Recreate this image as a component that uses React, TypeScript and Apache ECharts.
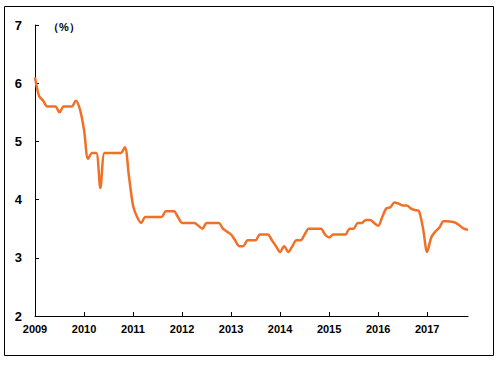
import React, { useEffect, useRef } from "react";
import * as echarts from "echarts";

const yearLabels = ["2009", "2010", "2011", "2012", "2013", "2014", "2015", "2016", "2017"];
// monthly values, Jan 2009 – Nov 2017
const rateValues = [
  6.1, 5.78, 5.7, 5.6, 5.6, 5.6, 5.5, 5.6, 5.6, 5.6, 5.7, 5.55,
  5.2, 4.7, 4.8, 4.8, 4.2, 4.8, 4.8, 4.8, 4.8, 4.8, 4.9, 4.4,
  3.9, 3.7, 3.6, 3.7, 3.7, 3.7, 3.7, 3.7, 3.8, 3.8, 3.8, 3.7,
  3.6, 3.6, 3.6, 3.6, 3.55, 3.5, 3.6, 3.6, 3.6, 3.6, 3.5, 3.45,
  3.4, 3.3, 3.2, 3.2, 3.3, 3.3, 3.3, 3.4, 3.4, 3.4, 3.3, 3.2,
  3.1, 3.2, 3.1, 3.2, 3.3, 3.3, 3.4, 3.5, 3.5, 3.5, 3.5, 3.4,
  3.35, 3.4, 3.4, 3.4, 3.4, 3.5, 3.5, 3.6, 3.6, 3.65, 3.65, 3.6,
  3.55, 3.7, 3.85, 3.87, 3.95, 3.93, 3.9, 3.9, 3.85, 3.82, 3.8, 3.5,
  3.1, 3.35, 3.45, 3.52, 3.63, 3.63, 3.62, 3.6, 3.55, 3.5, 3.48,
];
const unitLabel = "（%）";

export default function App() {
  const ref = useRef<HTMLDivElement>(null);
  useEffect(() => {
    if (!ref.current) return;
    const chart = echarts.init(ref.current, null, { renderer: "svg" });
    const categories = rateValues.map((_, i) => String(i));
    chart.setOption({
      animation: false,
      backgroundColor: "#fff",
      grid: { left: 35, right: 33, top: 25, bottom: 50, containLabel: false },
      xAxis: {
        type: "category",
        data: categories,
        boundaryGap: false,
        axisLine: { lineStyle: { color: "#000", width: 1 } },
        axisTick: {
          inside: true,
          length: 4,
          interval: (i: number) => i % 12 === 0,
          lineStyle: { color: "#000" },
        },
        axisLabel: {
          interval: (i: number) => i % 12 === 0,
          formatter: (v: string) => yearLabels[Number(v) / 12] ?? "",
          color: "#000",
          fontFamily: "Liberation Sans, Arial",
          fontWeight: "bold",
          fontSize: 11,
          margin: 7,
        },
        splitLine: { show: false },
      },
      yAxis: {
        type: "value",
        min: 2,
        max: 7,
        interval: 1,
        axisLine: { show: true, lineStyle: { color: "#000", width: 1 } },
        axisTick: { show: true, inside: true, length: 4, lineStyle: { color: "#000" } },
        axisLabel: {
          color: "#000",
          fontFamily: "Liberation Sans, Arial",
          fontWeight: "bold",
          fontSize: 13,
          margin: 13,
        },
        splitLine: { show: false },
      },
      graphic: [
        {
          type: "rect",
          shape: { x: 4.5, y: 6.5, width: 489, height: 349 },
          style: { fill: "none", stroke: "#000", lineWidth: 1 },
          silent: true,
        },
        {
          type: "text",
          left: 48,
          top: 21,
          style: {
            text: unitLabel,
            fill: "#000",
            font: "bold 11px 'Liberation Sans', Arial",
          },
        },
      ],
      series: [
        {
          type: "line",
          data: rateValues,
          smooth: 0.3,
          symbol: "none",
          lineStyle: { color: "#F07126", width: 2.5 },
        },
      ],
    });
    return () => chart.dispose();
  }, []);
  return (
    <div
      ref={ref}
      style={{ position: "fixed", left: 0, top: 0, width: 501, height: 366 }}
    />
  );
}
